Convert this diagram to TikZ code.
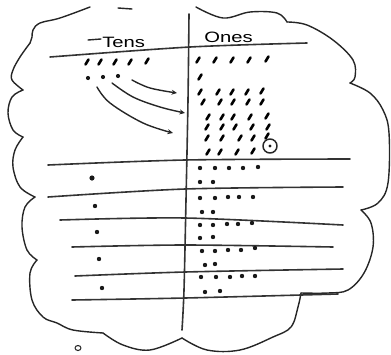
\documentclass[tikz,border=0pt]{standalone}
\usepackage{fontspec}
\setmainfont{Liberation Sans}
\usetikzlibrary{arrows.meta}
\begin{document}
\begin{tikzpicture}[x=1pt,y=-1pt, line cap=round, line join=round,
  ink/.style={draw=black!85, line width=1.4pt},
  rule/.style={draw=black!80, line width=1.6pt},
  tk/.style={draw=black, line width=2.6pt},
  dotmark/.style={fill=black!90},
  arr/.style={draw=black!85, line width=1.4pt, -{Stealth[length=5.5pt,width=5pt]}},
  lbl/.style={font=\fontsize{15}{15}\selectfont, inner sep=0pt, anchor=base west, xscale=1.35}]
\useasboundingbox (0,0) rectangle (391,354);
% cloud outline
\draw[ink] plot[smooth,tension=0.6] coordinates {(196,7)(223,18)(250,12)(277,13)(287,22)};
\draw[ink] plot[smooth,tension=0.6] coordinates {(287,22)(307,25)(333,40)(353,60)(355,77)(350,83)};
\draw[ink] plot[smooth,tension=0.6] coordinates {(350,83)(370,93)(383,110)(389,133)(388,183)(378,203)(361,210)};
\draw[ink] plot[smooth,tension=0.6] coordinates {(361,210)(371,223)(373,247)(364,273)(348,290)(328,293)(301,293)};
\draw[ink] plot[smooth,tension=0.6] coordinates {(301,293)(298,307)(291,327)(273,337)(240,350)(207,350)(182,338)};
\draw[ink] plot[smooth,tension=0.6] coordinates {(182,338)(150,350)(123,345)(103,333)};
\draw[ink] plot[smooth,tension=0.6] coordinates {(103,333)(73,330)(57,323)(43,317)(32,300)(30,273)(37,260)};
\draw[ink] plot[smooth,tension=0.6] coordinates {(37,260)(27,250)(22,227)(25,207)(35,197)};
\draw[ink] plot[smooth,tension=0.6] coordinates {(35,197)(20,187)(13,167)(15,150)(23,137)};
\draw[ink] plot[smooth,tension=0.6] coordinates {(23,137)(13,130)(8,113)(12,97)(23,90)};
\draw[ink] plot[smooth,tension=0.6] coordinates {(23,90)(12,80)(13,70)(20,57)(30,43)};
\draw[ink] plot[smooth,tension=0.6] coordinates {(30,43)(32,37)(33,30)(40,23)(60,18)(90,7)};
\draw[ink] (118,8) -- (132,9);
% small circle bottom left
\draw[ink, line width=1.1pt] (78,348) ellipse [x radius=3pt, y radius=2.5pt];
% vertical divider
\draw[rule] plot[smooth,tension=0.5] coordinates {(189,14)(188,100)(186,200)(184,290)(182,330)};
% header line
\draw[rule] plot[smooth,tension=0.5] coordinates {(50,57)(190,47)(307,43)};
% horizontal rules
\draw[rule] plot[smooth,tension=0.5] coordinates {(48,165)(185,160)(350,159)};
\draw[rule] plot[smooth,tension=0.5] coordinates {(48,197)(185,189)(343,187)};
\draw[rule] plot[smooth,tension=0.5] coordinates {(60,220)(185,218)(343,225)};
\draw[rule] plot[smooth,tension=0.5] coordinates {(72,247)(185,245)(333,247)};
\draw[rule] plot[smooth,tension=0.5] coordinates {(75,276)(185,272)(343,269)};
\draw[rule] plot[smooth,tension=0.5] coordinates {(72,300)(185,298)(338,294)};
% labels
\draw[ink] (88,40) -- (101,39);
\node[lbl] (tens) at (102,47) {Tens};
\node[lbl] (ones) at (204,42) {Ones};
% tens ticks and dots
\foreach \p in {(87,62),(100,62),(115,62),(130,62),(147,61)}
  \draw[tk] \p ++(-1.5,2.5) -- ++(3,-5);
\foreach \p in {(88,78),(103,77),(118,76)}
  \fill[dotmark] \p circle (2.1pt);
% arrows
\draw[arr] plot[smooth,tension=0.6] coordinates {(132,80)(150,88)(177,93)};
\draw[arr] plot[smooth,tension=0.6] coordinates {(112,83)(133,97)(160,107)(185,113)};
\draw[arr] plot[smooth,tension=0.6] coordinates {(97,87)(110,103)(143,123)(173,133)};
% ones ticks
\foreach \p in {(198,60),(215,60),(232,60),(249,60),(267,59),(200,77),
  (200,92),(218,92),(232,92),(247,92),(262,91),
  (203,102),(220,102),(233,102),(248,102),(262,102),
  (208,117),(222,117),(233,117),(250,117),(267,116),
  (207,127),(222,127),(235,127),(252,127),(268,127),
  (207,138),(222,138),(240,138),(253,138),(267,136),
  (208,152),(220,152),(237,152),(253,151)}
  \draw[tk] \p ++(-1.5,2.5) -- ++(3,-5);
\draw[ink, line width=1.5pt] (270,146) circle (7pt);
\fill[dotmark] (270,146) circle (1.6pt);
% tens dots below
\fill[dotmark] (92,178) circle (2.6pt);
\foreach \p in {(95,206),(97,232),(99,259),(102,288)}
  \fill[dotmark] \p circle (2.2pt);
% ones dots
\foreach \p in {(200,168),(215,168),(229,168),(243,168),(258,167),(200,182),(213,182),
  (200,198),(215,198),(228,197),(239,197),(253,197),(202,212),(213,212),
  (200,225),(213,225),(227,224),(238,224),(252,223),(200,238),(213,237),
  (202,251),(215,251),(228,250),(241,250),(255,248),(205,265),(215,264),
  (201,277),(216,277),(230,277),(242,276),(255,276),(205,292),(220,291)}
  \fill[dotmark] \p circle (2.2pt);
\end{tikzpicture}
\end{document}
